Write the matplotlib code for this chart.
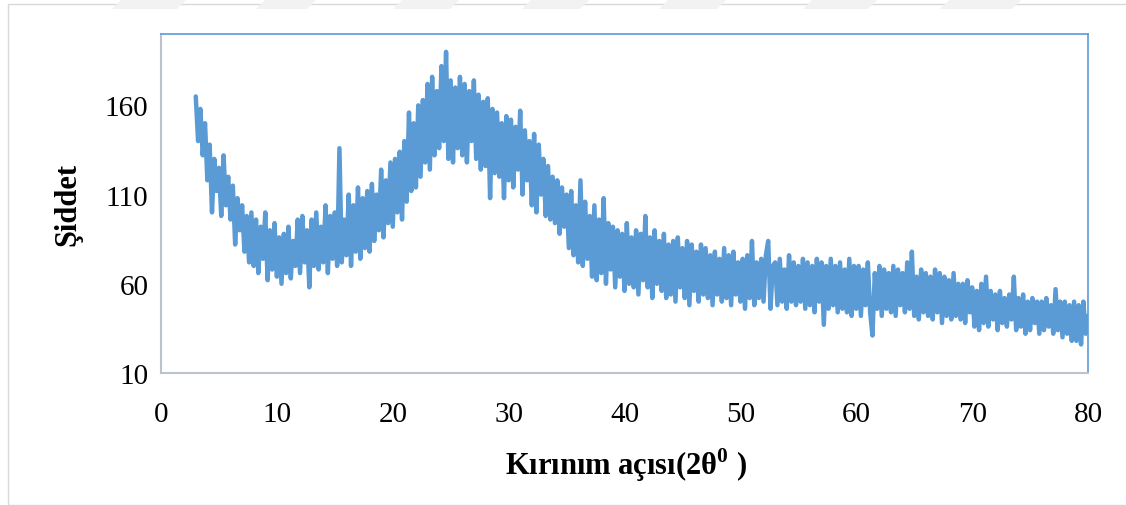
import numpy as np
import matplotlib
matplotlib.use("Agg")
import matplotlib.pyplot as plt
from matplotlib.patches import Rectangle, Polygon

plt.rcParams["font.family"] = ["Liberation Serif", "DejaVu Serif"]
plt.rcParams["mathtext.fontset"] = "custom"
plt.rcParams["mathtext.rm"] = "Liberation Serif"
plt.rcParams["mathtext.bf"] = "Liberation Serif:bold"

# 2θ 3.0 -> 80.0, adım 0.2 (okunan değerler, her satır 1 derece)
x_start = 3.0
x_step = 0.2
siddet = [
    165, 140, 158, 132, 150,
    118, 138, 100, 130, 112,
    125, 98, 132, 104, 120,
    96, 115, 82, 108, 90,
    104, 78, 98, 72, 100,
    70, 96, 66, 92, 74,
    100, 62, 90, 68, 94,
    64, 86, 60, 88, 66,
    92, 63, 84, 70, 96,
    66, 98, 72, 90, 58,
    96, 70, 100, 68, 92,
    72, 104, 66, 98, 74,
    100, 70, 136, 72, 96,
    76, 110, 70, 104, 78,
    114, 74, 108, 80, 112,
    78, 116, 84, 110, 90,
    124, 86, 118, 94, 128,
    92, 130, 100, 134, 96,
    140, 106, 156, 112, 150,
    114, 160, 120, 163, 128,
    172, 124, 176, 132, 168,
    136, 182, 140, 190, 130,
    174, 128, 170, 136, 176,
    132, 172, 128, 168, 140,
    174, 130, 166, 124, 162,
    126, 164, 108, 158, 122,
    156, 120, 150, 108, 154,
    118, 152, 114, 148, 124,
    157, 110, 146, 118, 140,
    104, 144, 100, 138, 110,
    130, 98, 126, 96, 120,
    94, 118, 88, 114, 92,
    110, 80, 112, 76, 104,
    72, 118, 70, 106, 74,
    98, 64, 104, 62, 96,
    66, 108, 60, 94, 68,
    92, 58, 90, 64, 88,
    56, 94, 60, 86, 58,
    90, 54, 88, 62, 98,
    58, 86, 52, 90, 60,
    84, 56, 88, 52, 82,
    54, 84, 50, 86, 58,
    80, 52, 84, 48, 82,
    56, 78, 50, 82, 54,
    80, 52, 76, 48, 78,
    54, 74, 50, 80, 52,
    76, 48, 78, 54, 72,
    50, 74, 46, 76, 52,
    84, 48, 72, 52, 74,
    50, 76, 84, 46, 70,
    72, 48, 74, 50, 68,
    46, 76, 50, 72, 48,
    70, 50, 74, 46, 72,
    48, 70, 44, 74, 50,
    72, 37, 70, 46, 74,
    48, 70, 44, 72, 46,
    68, 44, 74, 42, 70,
    46, 70, 42, 68, 48,
    72, 44, 31, 66, 46,
    70, 42, 68, 46, 66,
    44, 70, 42, 68, 48,
    66, 44, 72, 46, 78,
    42, 64, 40, 68, 44,
    66, 42, 64, 40, 68,
    44, 66, 38, 64, 42,
    62, 40, 66, 42, 60,
    40, 60, 38, 62, 44,
    58, 36, 56, 34, 60,
    38, 64, 36, 56, 40,
    54, 34, 56, 38, 52,
    36, 54, 40, 64, 34,
    52, 36, 54, 32, 50,
    34, 52, 38, 50, 32,
    50, 34, 52, 36, 48,
    32, 57, 34, 50, 30,
    50, 32, 48, 28, 50,
    28, 48, 26, 50, 32,
    42,
]
aci = x_start + x_step * np.arange(len(siddet))

x_ticks = [0, 10, 20, 30, 40, 50, 60, 70, 80]
y_ticks = [10, 60, 110, 160]

fig = plt.figure(figsize=(11.26, 5.06), dpi=100)
W, H = 1126, 506

# dış çerçeve ve üstteki soluk filigran
fig.patches.append(Rectangle((8 / W, 0), 1.2, (H - 5) / H, transform=fig.transFigure,
                             fill=False, ec="#D9D9D9", lw=1))
for a, b in [(122, 187), (266, 317), (403, 460), (532, 590), (669, 727), (813, 878), (950, 1022)]:
    pts = [(a / W, 1), (b / W, 1), ((b - 10) / W, (H - 10) / H), ((a - 10) / W, (H - 10) / H)]
    fig.patches.append(Polygon(pts, closed=True, transform=fig.transFigure,
                               fc="#F2F2F2", ec="none"))

ax = fig.add_axes([161 / W, (H - 374) / H, (1088 - 161) / W, (374 - 35) / H])
ax.plot(aci, siddet, color="#5B9BD5", lw=3.2,
        solid_capstyle="round", solid_joinstyle="round")

ax.set_xlim(0, 80)
ax.set_ylim(10, 200)
ax.set_xticks(x_ticks)
ax.set_yticks(y_ticks)
ax.tick_params(axis="both", length=0, labelsize=21)
ax.tick_params(axis="y", pad=9)
ax.tick_params(axis="x", pad=20)

for s in ["top", "right"]:
    ax.spines[s].set_color("#5B9BD5")
    ax.spines[s].set_linewidth(1.2)
for s in ["left", "bottom"]:
    ax.spines[s].set_color("#BCC3CC")
    ax.spines[s].set_linewidth(1.5)

ax.set_xlabel(r"Kırınım açısı(2θ$^{\mathbf{0}}$ )", fontsize=22, fontweight="bold")
ax.xaxis.set_label_coords(0.502, -0.215)
ax.set_ylabel("Şiddet", fontsize=22, fontweight="bold")
ax.yaxis.set_label_coords(-0.085, 0.5)

fig.savefig("out.png", dpi=100)
